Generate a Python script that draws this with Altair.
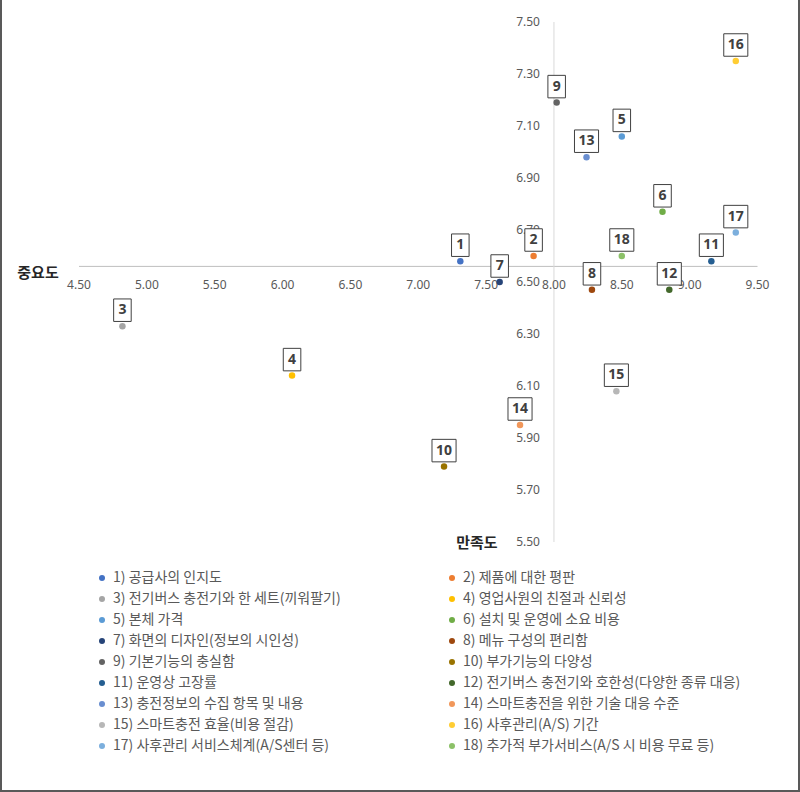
import altair as alt
import pandas as pd

# ---------------- data ----------------
ids = list(range(1, 19))
names = [
    "1) 공급사의 인지도",
    "2) 제품에 대한 평판",
    "3) 전기버스 충전기와 한 세트(끼워팔기)",
    "4) 영업사원의 친절과 신뢰성",
    "5) 본체 가격",
    "6) 설치 및 운영에 소요 비용",
    "7) 화면의 디자인(정보의 시인성)",
    "8) 메뉴 구성의 편리함",
    "9) 기본기능의 충실함",
    "10) 부가기능의 다양성",
    "11) 운영상 고장률",
    "12) 전기버스 충전기와 호한성(다양한 종류 대응)",
    "13) 충전정보의 수집 항목 및 내용",
    "14) 스마트충전을 위한 기술 대응 수준",
    "15) 스마트충전 효율(비용 절감)",
    "16) 사후관리(A/S) 기간",
    "17) 사후관리 서비스체계(A/S센터 등)",
    "18) 추가적 부가서비스(A/S 시 비용 무료 등)",
]
satisfaction = [7.31, 7.85, 4.82, 6.07, 8.50, 8.80, 7.60, 8.28, 8.02,
                7.19, 9.16, 8.85, 8.24, 7.75, 8.46, 9.34, 9.34, 8.50]
importance = [6.58, 6.60, 6.33, 6.14, 7.06, 6.77, 6.50, 6.47, 7.19,
              5.79, 6.58, 6.47, 6.98, 5.95, 6.08, 7.35, 6.69, 6.60]
colors = ["#4472C4", "#ED7D31", "#A5A5A5", "#FFC000", "#5B9BD5", "#70AD47",
          "#264478", "#9E480E", "#636363", "#997300", "#255E91", "#43682B",
          "#698ED0", "#F1975A", "#B7B7B7", "#FFCD33", "#7CAFDD", "#8CC168"]
x_ticks = [4.5, 5.0, 5.5, 6.0, 6.5, 7.0, 7.5, 8.0, 8.5, 9.0, 9.5]
y_ticks = [5.5, 5.7, 5.9, 6.1, 6.3, 6.5, 6.7, 6.9, 7.1, 7.3, 7.5]
X_CROSS = 8.00
Y_CROSS = 6.56
x_title = "만족도"
y_title = "중요도"

# ---------------- layout (whole canvas is the view) ----------------
W, H = 800, 792
PX_LEFT, PX_RIGHT = 79.0, 757.5     # pixel of x=4.5 and x=9.5
PX_TOP, PX_BOTTOM = 22.0, 542.0     # pixel of y=7.5 and y=5.5
xppu = (PX_RIGHT - PX_LEFT) / (x_ticks[-1] - x_ticks[0])
yppu = (PX_BOTTOM - PX_TOP) / (y_ticks[-1] - y_ticks[0])
x_lo = x_ticks[0] - PX_LEFT / xppu
x_hi = x_ticks[0] + (W - PX_LEFT) / xppu
y_hi = y_ticks[-1] + PX_TOP / yppu
y_lo = y_ticks[-1] - (H - PX_TOP) / yppu

xs = alt.Scale(domain=[x_lo, x_hi], nice=False, zero=False)
ys = alt.Scale(domain=[y_lo, y_hi], nice=False, zero=False)


def X(f):
    return alt.X(f, type="quantitative", scale=xs, axis=None)


def Y(f):
    return alt.Y(f, type="quantitative", scale=ys, axis=None)


df = pd.DataFrame({"id": ids, "name": names, "x": satisfaction, "y": importance})

# legend fills column by column: odd items first, then even items,
# so that the two columns read 1/2, 3/4, ... row by row like the original
order = list(range(0, 18, 2)) + list(range(1, 18, 2))
legend_domain = [names[i] for i in order]
legend_range = [colors[i] for i in order]

# border (left, right, bottom) at the domain edges
border_df = pd.DataFrame({
    "x": [x_lo, x_hi, x_lo],
    "x2": [x_lo, x_hi, x_hi],
    "y": [y_lo, y_lo, y_lo],
    "y2": [y_hi, y_hi, y_lo],
})
border = alt.Chart(border_df).mark_rule(color="#595959", strokeWidth=4).encode(
    x=X("x"), x2="x2", y=Y("y"), y2="y2")

hline = alt.Chart(pd.DataFrame({"x": [x_ticks[0]], "x2": [x_ticks[-1]], "y": [Y_CROSS]})).mark_rule(
    color="#BFBFBF", strokeWidth=1).encode(x=X("x"), x2="x2", y=Y("y"))
vline = alt.Chart(pd.DataFrame({"x": [X_CROSS], "y": [y_ticks[0]], "y2": [y_ticks[-1]]})).mark_rule(
    color="#D9D9D9", strokeWidth=1).encode(x=X("x"), y=Y("y"), y2="y2")

xt_df = pd.DataFrame({"x": x_ticks, "y": [Y_CROSS] * len(x_ticks),
                      "label": [f"{v:.2f}" for v in x_ticks]})
yt_df = pd.DataFrame({"x": [X_CROSS] * len(y_ticks), "y": y_ticks,
                      "label": [f"{v:.2f}" for v in y_ticks]})
xtick_text = alt.Chart(xt_df).mark_text(
    font="Noto Sans", fontSize=12, color="#595959", dy=19, baseline="middle", align="center"
).encode(x=X("x"), y=Y("y"), text="label:N")
ytick_text = alt.Chart(yt_df).mark_text(
    font="Noto Sans", fontSize=12, color="#595959", dx=-14, baseline="middle", align="right"
).encode(x=X("x"), y=Y("y"), text="label:N")

ytitle = alt.Chart(pd.DataFrame({"x": [x_ticks[0]], "y": [Y_CROSS], "t": [y_title]})).mark_text(
    font="Noto Sans CJK KR", fontSize=15, fontWeight="bold", color="#262626",
    dx=-41, dy=7, align="center", baseline="middle"
).encode(x=X("x"), y=Y("y"), text="t:N")
xtitle = alt.Chart(pd.DataFrame({"x": [X_CROSS], "y": [y_ticks[0]], "t": [x_title]})).mark_text(
    font="Noto Sans CJK KR", fontSize=15, fontWeight="bold", color="#262626",
    dx=-77, dy=1, align="center", baseline="middle"
).encode(x=X("x"), y=Y("y"), text="t:N")

BOX1 = "M-0.78,-1H0.78V1H-0.78Z"
BOX2 = "M-1.07,-1H1.07V1H-1.07Z"
base = alt.Chart(df)
box1 = base.transform_filter("datum.id < 10").mark_point(
    shape=BOX1, size=506, filled=True, fill="white", stroke="#404040",
    strokeWidth=1, opacity=1, yOffset=-16
).encode(x=X("x"), y=Y("y"))
box2 = base.transform_filter("datum.id >= 10").mark_point(
    shape=BOX2, size=506, filled=True, fill="white", stroke="#404040",
    strokeWidth=1, opacity=1, yOffset=-16
).encode(x=X("x"), y=Y("y"))
labels = base.mark_text(
    font="Noto Sans", fontSize=14, fontWeight="bold", color="#404040",
    dy=-16, baseline="middle", align="center"
).encode(x=X("x"), y=Y("y"), text="id:N")

points = base.mark_circle(size=42, opacity=1).encode(
    x=X("x"), y=Y("y"),
    color=alt.Color(
        "name:N",
        scale=alt.Scale(domain=legend_domain, range=legend_range),
        legend=alt.Legend(
            title=None, orient="none", legendX=95, legendY=571, columns=2,
            direction="vertical",
            columnPadding=104, rowPadding=7, symbolType="circle", symbolSize=36,
            symbolStrokeWidth=0, labelFont="Noto Sans CJK KR", labelFontSize=14,
            labelColor="#595959", labelLimit=400, labelOffset=4, padding=0,
        ),
    ),
)

chart = alt.layer(
    border, hline, vline, xtick_text, ytick_text, ytitle, xtitle,
    points, box1, box2, labels
).properties(
    width=W, height=H, autosize=alt.AutoSizeParams(type="none"), padding=0,
    background="white"
).configure_view(stroke=None)

chart.save("out.html", embed_options={"renderer": "svg", "actions": False})
